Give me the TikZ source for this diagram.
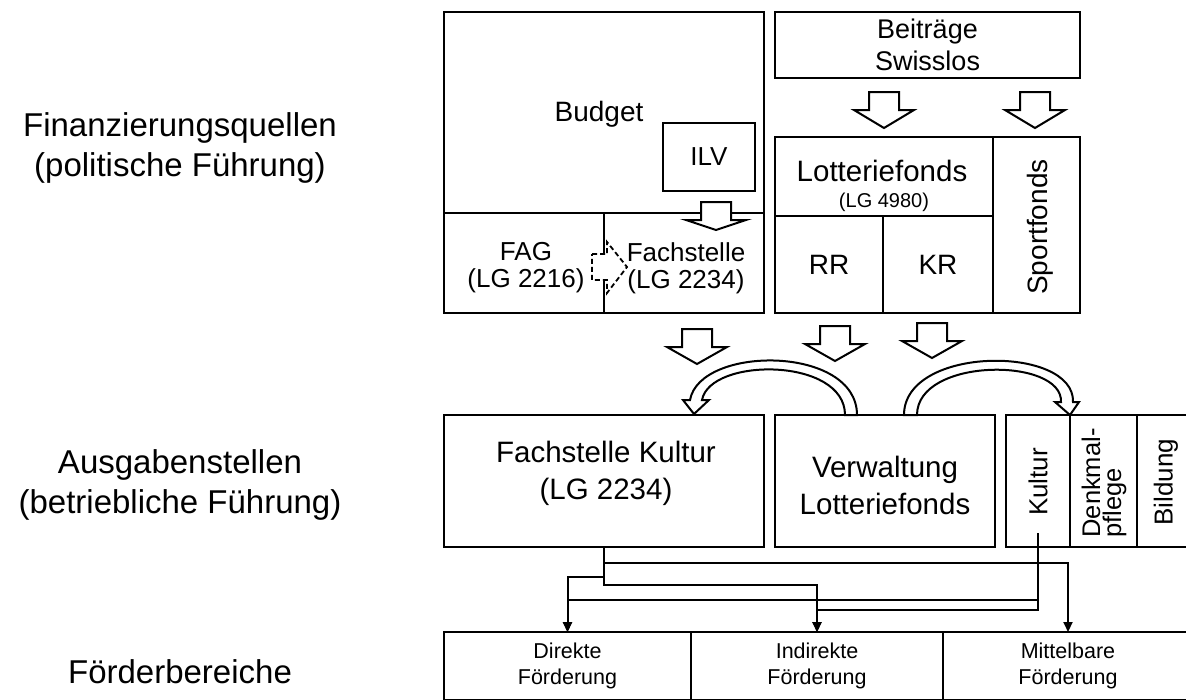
\documentclass[tikz,border=0pt]{standalone}
\usepackage{fontspec}
\setmainfont{Liberation Sans}
\usetikzlibrary{arrows.meta}

% open block arrow pointing down: centre x, top y, head length
\newcommand{\openarrow}[3]{%
  \draw[blockarrow,shift={(#1,#2)}] (-15,0) -- (15,0) -- (15,18) -- (30,18)
  -- (0,18+#3) -- (-30,18) -- (-15,18) -- cycle;}

\begin{document}
\begin{tikzpicture}[x=1pt,y=-1pt,>={Triangle[length=10pt,width=9pt]},
  box/.style={draw,line width=2.2pt,inner sep=0pt,outer sep=0pt},
  blockarrow/.style={draw,fill=white,line width=2pt,line join=miter},
  conn/.style={->,line width=2pt},
  lbl/.style={inner sep=0pt,align=center,font=\fontsize{33}{40}\selectfont},
  mid/.style={inner sep=0pt,align=center,font=\fontsize{29.5}{37}\selectfont},
  sml/.style={inner sep=0pt,align=center,font=\fontsize{26}{27}\selectfont},
  tiny/.style={inner sep=0pt,align=center,font=\fontsize{21.5}{26}\selectfont}]
  \path[use as bounding box] (0,0) rectangle (1186,699);
  \clip (0,0) rectangle (1186,699);

  % row labels
  \node[lbl] (finq) at (180,148) {Finanzierungsquellen\\(politische Führung)};
  \node[lbl] (ausg) at (180,485) {Ausgabenstellen\\(betriebliche Führung)};
  \node[lbl] (foerd) at (180,672) {Förderbereiche};

  % sources
  \node[box,minimum width=320,minimum height=201] (budget) at (604,112.5) {};
  \node[mid,font=\fontsize{28}{30}\selectfont] (budgettxt) at (599,114) {Budget};
  \node[box,minimum width=160,minimum height=100] (fag) at (524,263) {};
  \node[box,minimum width=160,minimum height=100] (fach) at (684,263) {};
  \node[box,fill=white,minimum width=92,minimum height=68,sml] (ilv) at (709,157) {ILV};
  \node[sml] (fagtxt) at (526,268) {FAG\\(LG 2216)};
  \node[sml] (fachtxt) at (686,268) {Fachstelle\\(LG 2234)};

  \node[box,minimum width=305,minimum height=66,sml,font=\fontsize{27}{32}\selectfont]
    (swiss) at (927.5,45) {Beiträge\\Swisslos};
  \node[box,minimum width=218,minimum height=79] (lotto) at (884,176.5) {};
  \node[mid] (lottotxt) at (882,171) {Lotteriefonds};
  \node[inner sep=0pt,font=\fontsize{20}{22}\selectfont] (lg) at (884,202) {(LG 4980)};
  \node[box,minimum width=108,minimum height=97,mid,font=\fontsize{28}{30}\selectfont]
    (rr) at (829,264.5) {RR};
  \node[box,minimum width=110,minimum height=97,mid,font=\fontsize{28}{30}\selectfont]
    (kr) at (938,264.5) {KR};
  \node[box,minimum width=87,minimum height=176] (sport) at (1036.5,225) {};
  \node[mid,font=\fontsize{28}{30}\selectfont,rotate=90] (sporttxt) at (1040,227) {Sportfonds};

  % spending units
  \node[box,minimum width=320,minimum height=132] (fk) at (604,481) {};
  \node[mid] (fktxt) at (606,473) {Fachstelle Kultur\\(LG 2234)};
  \node[box,minimum width=220,minimum height=132] (verw) at (885,481) {};
  \node[mid] (verwtxt) at (885,485) {Verwaltung\\Lotteriefonds};
  \node[box,minimum width=187,minimum height=132] (fonds) at (1099.5,481) {};
  \draw[line width=1.3pt] (1070,415) -- (1070,547);
  \draw[line width=1.3pt] (1137,415) -- (1137,547);
  \node[sml,rotate=90] (kultur) at (1038,482) {Kultur};
  \node[sml,rotate=90,align=left,font=\fontsize{25.5}{21}\selectfont]
    (denkmal) at (1104,483) {Denkmal-\\pflege};
  \node[sml,rotate=90] (bildung) at (1166,482) {Bildung};
  \coordinate (kfuss) at (1038,533);

  % funding areas
  \node[box,minimum width=247,minimum height=68,tiny] (direkt) at (567.5,666) {Direkte\\Förderung};
  \node[box,minimum width=252,minimum height=68,tiny] (indir) at (817,666) {Indirekte\\Förderung};
  \node[box,minimum width=250,minimum height=68,tiny] (mittel) at (1068,666) {Mittelbare\\Förderung};

  % block arrows
  \openarrow{716}{202}{10}
  \openarrow{884}{92}{18}
  \openarrow{1035}{92}{18}
  \openarrow{697}{329}{17}
  \openarrow{835}{326}{17}
  \openarrow{932}{323}{17}
  \draw[blockarrow,dashed,dash pattern=on 5pt off 3pt,line width=1.8pt]
    (592,254) -- (607,254) -- (607,242) -- (627,267) -- (607,293)
    -- (607,280) -- (592,280) -- cycle;

  % curved arrows out of the lottery administration
  \draw[blockarrow] (857,415) .. controls (857,345) and (700,345) .. (690,400)
    -- (683,400) -- (694,414) -- (709,400) -- (702,400)
    .. controls (710,357) and (845,357) .. (845,415) -- cycle;
  \draw[blockarrow] (904,415) .. controls (904,345) and (1075,345) .. (1073,402)
    -- (1079,402) -- (1070,415) -- (1055,402) -- (1061,402)
    .. controls (1063,357) and (917,357) .. (917,415) -- cycle;

  % connectors
  \draw[conn] (fk.south) -- ++(0,16) -| (mittel.north);
  \draw[conn] (fk.south) -- ++(0,38) -| (indir.north);
  \draw[conn] (fk.south) ++(0,30) -| (direkt.north);
  \draw[conn] (kfuss) -- (1038,600) -| (direkt.north);
  \draw[conn] (kfuss) -- (1038,610) -| (indir.north);

\end{tikzpicture}
\end{document}
